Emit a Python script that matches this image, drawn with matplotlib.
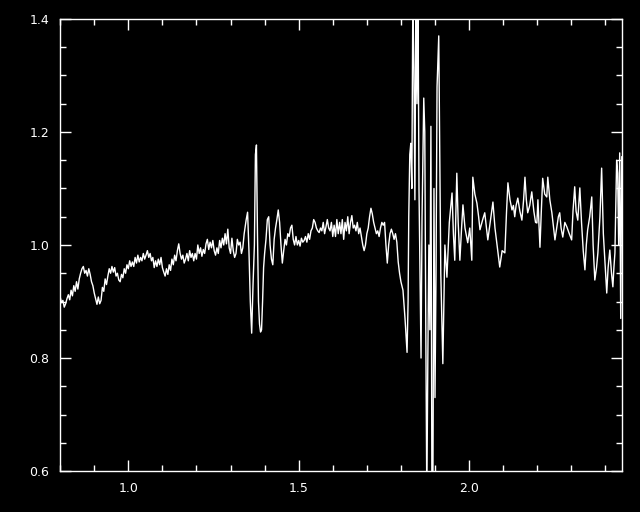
import matplotlib
matplotlib.use('Agg')
import matplotlib.pyplot as plt
from matplotlib.ticker import MultipleLocator

# wavelength (micron) and normalised flux
wave = [0.800, 0.804, 0.808, 0.812, 0.816, 0.820, 0.824, 0.828, 0.832, 0.836,
        0.840, 0.844, 0.848, 0.852, 0.856, 0.860, 0.864, 0.868, 0.872, 0.876,
        0.880, 0.884, 0.888, 0.892, 0.896, 0.900, 0.904, 0.908, 0.912, 0.916,
        0.920, 0.924, 0.928, 0.932, 0.936, 0.940, 0.944, 0.948, 0.952, 0.956,
        0.960, 0.964, 0.968, 0.972, 0.976, 0.980, 0.984, 0.988, 0.992, 0.996,
        1.000, 1.004, 1.008, 1.012, 1.016, 1.020, 1.024, 1.028, 1.032, 1.036,
        1.040, 1.044, 1.048, 1.052, 1.056, 1.060, 1.064, 1.068, 1.072, 1.076,
        1.080, 1.084, 1.088, 1.092, 1.096, 1.100, 1.104, 1.108, 1.112, 1.116,
        1.120, 1.124, 1.128, 1.132, 1.136, 1.140, 1.144, 1.148, 1.152, 1.156,
        1.160, 1.164, 1.168, 1.172, 1.176, 1.180, 1.184, 1.188, 1.192, 1.196,
        1.200, 1.204, 1.208, 1.212, 1.216, 1.220, 1.224, 1.228, 1.232, 1.236,
        1.240, 1.244, 1.248, 1.252, 1.256, 1.260, 1.264, 1.268, 1.272, 1.276,
        1.280, 1.284, 1.288, 1.292, 1.296, 1.300, 1.304, 1.308, 1.312, 1.316,
        1.320, 1.324, 1.328, 1.332, 1.336, 1.340,
        1.346, 1.350, 1.354, 1.358, 1.362, 1.366, 1.370, 1.373, 1.376,
        1.379, 1.382, 1.385, 1.388, 1.391, 1.394, 1.397, 1.400, 1.404, 1.408,
        1.412, 1.416, 1.420, 1.424, 1.428, 1.432, 1.436, 1.440, 1.444, 1.448,
        1.452, 1.456, 1.460, 1.464, 1.468, 1.472, 1.476, 1.480, 1.484, 1.488,
        1.492, 1.496, 1.500, 1.504, 1.508, 1.512, 1.516, 1.520, 1.524, 1.528,
        1.532, 1.536, 1.540, 1.544, 1.548, 1.552, 1.556, 1.560, 1.564, 1.568,
        1.572, 1.576, 1.580, 1.584, 1.588, 1.592, 1.596, 1.600, 1.604, 1.608,
        1.612, 1.616, 1.620, 1.624, 1.628, 1.632, 1.636, 1.640, 1.644, 1.648,
        1.652, 1.656, 1.660, 1.664, 1.668, 1.672, 1.676, 1.680, 1.684, 1.688,
        1.692, 1.696, 1.700, 1.704, 1.708, 1.712, 1.716, 1.720, 1.724, 1.728,
        1.732, 1.736, 1.740, 1.744, 1.748, 1.752, 1.756, 1.760, 1.764, 1.768,
        1.772, 1.776, 1.780, 1.784, 1.788, 1.792, 1.796, 1.800, 1.806, 1.812,
        1.818, 1.821, 1.823, 1.826, 1.829, 1.832, 1.835, 1.838, 1.841, 1.844,
        1.847, 1.850, 1.853, 1.856, 1.859, 1.862, 1.867, 1.870, 1.873, 1.876,
        1.879, 1.882, 1.885, 1.888, 1.891, 1.894, 1.897, 1.900, 1.903, 1.906,
        1.911, 1.914, 1.917, 1.923, 1.929, 1.935, 1.942, 1.950, 1.954, 1.958,
        1.964, 1.968, 1.973, 1.978, 1.982, 1.988, 1.996, 2.002, 2.008, 2.011,
        2.017, 2.023, 2.028, 2.032, 2.040, 2.046, 2.051, 2.055, 2.062, 2.070,
        2.076, 2.084, 2.090, 2.097, 2.105, 2.110, 2.114, 2.120, 2.126, 2.130,
        2.134, 2.138, 2.143, 2.149, 2.155, 2.160, 2.164, 2.168, 2.172, 2.178,
        2.184, 2.190, 2.195, 2.199, 2.202, 2.205, 2.208, 2.212, 2.216, 2.222,
        2.228, 2.231, 2.237, 2.243, 2.248, 2.252, 2.257, 2.262, 2.266, 2.270,
        2.275, 2.281, 2.287, 2.294, 2.301, 2.305, 2.310, 2.314, 2.319, 2.325,
        2.330, 2.335, 2.340, 2.344, 2.348, 2.354, 2.360, 2.364, 2.369, 2.374,
        2.378, 2.384, 2.389, 2.394, 2.398, 2.404, 2.408, 2.413, 2.418, 2.422,
        2.425, 2.428, 2.431, 2.433, 2.436, 2.439, 2.442, 2.445, 2.448]

flux = [0.908, 0.898, 0.902, 0.890, 0.896, 0.905, 0.912, 0.903, 0.920, 0.910,
        0.928, 0.918, 0.935, 0.922, 0.940, 0.950, 0.958, 0.962, 0.950, 0.955,
        0.945, 0.958, 0.948, 0.935, 0.928, 0.915, 0.905, 0.895, 0.908, 0.896,
        0.902, 0.925, 0.918, 0.940, 0.930, 0.945, 0.958, 0.950, 0.962, 0.952,
        0.960, 0.945, 0.950, 0.938, 0.935, 0.948, 0.942, 0.958, 0.950, 0.965,
        0.958, 0.972, 0.962, 0.970, 0.962, 0.978, 0.968, 0.982, 0.970, 0.978,
        0.972, 0.985, 0.975, 0.982, 0.990, 0.978, 0.985, 0.972, 0.978, 0.960,
        0.972, 0.962, 0.975, 0.965, 0.978, 0.960, 0.952, 0.945, 0.958, 0.948,
        0.965, 0.955, 0.975, 0.965, 0.982, 0.972, 0.990, 1.002, 0.985, 0.975,
        0.982, 0.968, 0.975, 0.985, 0.972, 0.990, 0.978, 0.985, 0.972, 0.985,
        0.975, 1.000, 0.985, 0.995, 0.980, 0.992, 0.985, 1.002, 1.010, 0.992,
        1.005, 0.995, 1.008, 0.990, 0.982, 0.995, 0.985, 1.008, 0.995, 1.012,
        1.000, 1.020, 1.002, 1.028, 0.995, 0.985, 1.012, 0.990, 0.978, 0.985,
        1.010, 1.000, 1.005, 0.985, 0.995, 1.020,
        1.045, 1.058, 0.990, 0.900, 0.844, 0.930, 1.000, 1.160, 1.177,
        1.020, 0.900, 0.860, 0.846, 0.850, 0.900, 0.960, 0.985, 1.010, 1.045,
        1.050, 1.000, 0.975, 0.965, 1.010, 1.030, 1.045, 1.062, 1.040, 1.000,
        0.968, 0.990, 1.010, 1.000, 1.020, 1.015, 1.030, 1.035, 1.010, 1.000,
        1.015, 1.000, 1.008, 0.998, 1.012, 1.005, 1.008, 1.015, 1.005, 1.020,
        1.010, 1.025, 1.030, 1.045, 1.040, 1.030, 1.025, 1.022, 1.030, 1.025,
        1.040, 1.020, 1.032, 1.045, 1.030, 1.025, 1.040, 1.015, 1.035, 1.015,
        1.045, 1.020, 1.040, 1.020, 1.045, 1.010, 1.040, 1.025, 1.050, 1.020,
        1.040, 1.052, 1.030, 1.035, 1.025, 1.040, 1.020, 1.030, 1.015, 1.000,
        0.990, 1.000, 1.020, 1.030, 1.050, 1.065, 1.055, 1.040, 1.030, 1.020,
        1.025, 1.015, 1.030, 1.040, 1.035, 1.040, 1.000, 0.968, 1.000, 1.020,
        1.028, 1.020, 1.010, 1.020, 1.005, 0.970, 0.950, 0.935, 0.920, 0.870,
        0.810, 0.900, 1.050, 1.160, 1.180, 1.100, 1.450, 1.310, 1.080, 1.450,
        1.250, 1.450, 1.100, 0.950, 0.800, 1.050, 1.260, 1.200, 0.850, 0.550,
        0.800, 1.000, 0.850, 1.210, 0.550, 0.600, 1.100, 0.730, 0.950, 1.280,
        1.370, 1.150, 0.950, 0.790, 1.000, 0.943, 1.040, 1.092, 1.020, 0.973,
        1.127, 1.040, 0.973, 1.030, 1.071, 1.030, 1.004, 1.030, 0.973, 1.120,
        1.090, 1.074, 1.050, 1.027, 1.045, 1.057, 1.030, 1.009, 1.040, 1.076,
        1.030, 0.991, 0.961, 0.990, 0.986, 1.060, 1.110, 1.080, 1.062, 1.070,
        1.050, 1.070, 1.083, 1.060, 1.044, 1.080, 1.120, 1.080, 1.057, 1.070,
        1.094, 1.060, 1.040, 1.039, 1.080, 1.040, 0.996, 1.060, 1.118, 1.090,
        1.085, 1.120, 1.080, 1.057, 1.030, 1.009, 1.030, 1.050, 1.057, 1.030,
        1.014, 1.040, 1.032, 1.020, 1.009, 1.060, 1.103, 1.060, 1.044, 1.101,
        1.040, 0.990, 0.956, 1.000, 1.027, 1.050, 1.085, 1.000, 0.938, 0.960,
        0.986, 1.050, 1.136, 1.020, 0.979, 0.915, 0.960, 0.991, 0.950, 0.926,
        0.960, 0.986, 1.080, 1.150, 1.127, 1.000, 1.163, 0.870, 1.156]

assert len(wave) == len(flux)

plt.rcParams['font.family'] = ['DejaVu Sans']

fig = plt.figure(figsize=(6.4, 5.12), dpi=100, facecolor='black')
ax = fig.add_axes([0.094, 0.080, 0.878, 0.883], facecolor='black')

ax.plot(wave, flux, color='white', linewidth=1.0)

ax.set_xlim(0.8, 2.449)
ax.set_ylim(0.6, 1.4)

ax.xaxis.set_major_locator(MultipleLocator(0.5))
ax.xaxis.set_minor_locator(MultipleLocator(0.1))
ax.yaxis.set_major_locator(MultipleLocator(0.2))
ax.yaxis.set_minor_locator(MultipleLocator(0.05))
ax.xaxis.set_major_formatter(plt.FormatStrFormatter('%.1f'))
ax.yaxis.set_major_formatter(plt.FormatStrFormatter('%.1f'))

ax.tick_params(which='both', direction='in', colors='white', top=True, right=True,
               labelsize=9, width=1)
ax.tick_params(which='major', length=8, pad=8)
ax.tick_params(which='minor', length=4)
for s in ax.spines.values():
    s.set_color('white')
    s.set_linewidth(1)

fig.savefig('out.png', dpi=100, facecolor='black')
